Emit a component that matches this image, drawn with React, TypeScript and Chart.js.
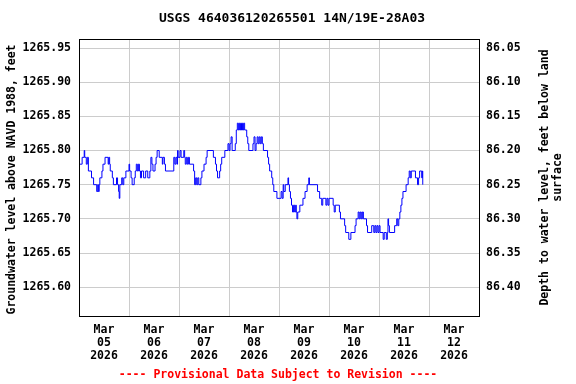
import React, { useEffect, useRef } from "react";
import { Chart, registerables } from "chart.js";

Chart.register(...registerables);

const TITLE = "USGS 464036120265501 14N/19E-28A03";
const LEFT_TITLE = "Groundwater level above NAVD 1988, feet";
const RIGHT_TITLE = ["Depth to water level, feet below land", "surface"];
const FOOTER = "---- Provisional Data Subject to Revision ----";

// x axis: hours since Mar 05 2026 00:00
const dayLabels = ["05", "06", "07", "08", "09", "10", "11", "12"];
const monthLabel = "Mar";
const yearLabel = "2026";
const leftTicks = [1265.6, 1265.65, 1265.7, 1265.75, 1265.8, 1265.85, 1265.9, 1265.95];
const rightTicks = [86.05, 86.1, 86.15, 86.2, 86.25, 86.3, 86.35, 86.4];
const LAND_DATUM = 1352.0;

// times (hours) at which the level changes, and the level from then on
const hours = [
  0, 1, 1.5, 2.5, 2.75, 3.5, 4, 4.5, 6, 7, 8.5, 9, 9.3, 9.7, 10, 11, 11.5, 12.5, 14, 14.3,
  14.7, 15, 16, 16.5, 18, 18.5, 19, 19.3, 19.6, 20.5, 21, 21.5, 22.5, 24, 24.3, 25, 25.5, 26.5, 27, 27.5,
  28, 28.5, 29, 29.5, 30, 31, 32, 33, 34, 34.5, 35, 35.5, 36.5, 37, 37.5, 38.5, 40, 40.3, 41, 41.5,
  45.5, 46, 46.5, 47, 47.3, 47.6, 48.5, 49, 50.3, 50.7, 51, 51.5, 52, 52.5, 53, 55, 55.5, 56, 56.5, 57,
  57.5, 58.5, 59, 60, 61, 61.5, 64.5, 65.5, 66, 66.5, 67.5, 68, 68.5, 70, 71.5, 72, 72.5, 73, 73.5, 75,
  75.5, 76, 76.5, 77, 77.5, 78, 78.5, 79, 79.5, 80.5, 81, 81.5, 83.5, 84, 84.5, 85, 85.5, 86, 86.5, 87,
  87.5, 88, 88.5, 90.5, 91, 91.5, 92.5, 93, 93.5, 95, 97, 97.5, 98, 98.3, 99, 100.3, 100.6, 101, 101.5, 102,
  102.5, 103, 103.5, 104, 104.3, 104.6, 105, 106, 107.5, 108.5, 109.5, 110.3, 110.6, 114.5, 115.5, 116.5, 117, 118.5, 119, 119.5,
  120, 122, 122.5, 123, 125, 125.5, 127.5, 128, 129.5, 130.5, 132.5, 133, 134, 134.5, 135, 135.5, 136, 136.5, 138, 138.5,
  140.5, 141.5, 142, 142.5, 143, 143.5, 144, 144.5, 146, 146.5, 147.5, 148, 148.3, 148.6, 149, 151.5, 152.5, 153, 153.5, 154,
  154.5, 155, 155.5, 157, 158, 158.5, 159, 159.5, 161.5, 162.5, 163, 163.5, 164.5, 164.8, 165,
];
const levels = [
  1265.78, 1265.78, 1265.79, 1265.8, 1265.79, 1265.78, 1265.79, 1265.77, 1265.76, 1265.75, 1265.74, 1265.75, 1265.74, 1265.75, 1265.76, 1265.77, 1265.78, 1265.79, 1265.78, 1265.79,
  1265.78, 1265.77, 1265.76, 1265.75, 1265.76, 1265.75, 1265.74, 1265.73, 1265.75, 1265.76, 1265.75, 1265.76, 1265.77, 1265.78, 1265.77, 1265.76, 1265.75, 1265.76, 1265.77, 1265.78,
  1265.77, 1265.78, 1265.77, 1265.76, 1265.77, 1265.76, 1265.77, 1265.76, 1265.77, 1265.79, 1265.78, 1265.77, 1265.78, 1265.79, 1265.8, 1265.79, 1265.78, 1265.79, 1265.78, 1265.77,
  1265.79, 1265.78, 1265.79, 1265.78, 1265.8, 1265.79, 1265.8, 1265.79, 1265.8, 1265.79, 1265.78, 1265.79, 1265.78, 1265.79, 1265.78, 1265.77, 1265.75, 1265.76, 1265.75, 1265.76,
  1265.75, 1265.76, 1265.77, 1265.78, 1265.79, 1265.8, 1265.79, 1265.78, 1265.77, 1265.76, 1265.77, 1265.78, 1265.79, 1265.8, 1265.81, 1265.8, 1265.81, 1265.82, 1265.8, 1265.81,
  1265.83, 1265.84, 1265.83, 1265.84, 1265.83, 1265.84, 1265.83, 1265.84, 1265.83, 1265.82, 1265.81, 1265.8, 1265.81, 1265.82, 1265.8, 1265.81, 1265.82, 1265.81, 1265.82, 1265.81,
  1265.82, 1265.81, 1265.8, 1265.79, 1265.78, 1265.77, 1265.76, 1265.75, 1265.74, 1265.73, 1265.74, 1265.73, 1265.75, 1265.74, 1265.75, 1265.76, 1265.75, 1265.74, 1265.73, 1265.72,
  1265.71, 1265.72, 1265.71, 1265.72, 1265.71, 1265.7, 1265.71, 1265.72, 1265.73, 1265.74, 1265.75, 1265.76, 1265.75, 1265.74, 1265.73, 1265.72, 1265.73, 1265.72, 1265.73, 1265.72,
  1265.73, 1265.72, 1265.71, 1265.72, 1265.71, 1265.7, 1265.69, 1265.68, 1265.67, 1265.68, 1265.69, 1265.7, 1265.71, 1265.7, 1265.71, 1265.7, 1265.71, 1265.7, 1265.69, 1265.68,
  1265.69, 1265.68, 1265.69, 1265.68, 1265.69, 1265.68, 1265.69, 1265.68, 1265.67, 1265.68, 1265.67, 1265.68, 1265.7, 1265.69, 1265.68, 1265.69, 1265.7, 1265.69, 1265.7, 1265.71,
  1265.72, 1265.73, 1265.74, 1265.75, 1265.76, 1265.77, 1265.76, 1265.77, 1265.76, 1265.75, 1265.76, 1265.77, 1265.76, 1265.77, 1265.75,
];

const FONT = "'DejaVu Sans Mono', 'Liberation Mono', monospace";

const textPlugin = {
  id: "usgsText",
  afterDraw(chart: any) {
    const { ctx, chartArea } = chart;
    ctx.save();
    // frame
    ctx.strokeStyle = "#000000";
    ctx.lineWidth = 1;
    ctx.strokeRect(chartArea.left + 0.5, chartArea.top + 0.5, chartArea.right - chartArea.left, chartArea.bottom - chartArea.top);
    ctx.fillStyle = "#000000";
    ctx.textAlign = "center";
    ctx.textBaseline = "middle";
    ctx.font = `bold 13px ${FONT}`;
    ctx.fillText(TITLE, 292, 19);
    const cy = (chartArea.top + chartArea.bottom) / 2;
    ctx.font = `bold 11.5px ${FONT}`;
    ctx.save();
    ctx.translate(12, cy + 2);
    ctx.rotate(-Math.PI / 2);
    ctx.fillText(LEFT_TITLE, 0, 0);
    ctx.restore();
    ctx.save();
    ctx.translate(545, cy);
    ctx.rotate(-Math.PI / 2);
    ctx.fillText(RIGHT_TITLE[0], 0, 0);
    ctx.fillText(RIGHT_TITLE[1], 0, 13);
    ctx.restore();
    ctx.fillStyle = "#ff0000";
    ctx.fillText(FOOTER, 278, 375);
    ctx.restore();
  },
};

export default function App() {
  const ref = useRef<HTMLCanvasElement>(null);
  useEffect(() => {
    document.body.style.margin = "0";
    const canvas = ref.current!;
    const points = hours.map((h, i) => ({ x: h, y: levels[i] }));
    const yMin = 1265.5578;
    const yMax = 1265.9632;
    const chart = new Chart(canvas, {
      type: "line",
      data: {
        datasets: [
          {
            data: points,
            borderColor: "#0000ff",
            borderWidth: 1,
            pointRadius: 0,
            stepped: true,
            fill: false,
            yAxisID: "y",
          },
        ],
      },
      options: {
        animation: false,
        responsive: false,
        maintainAspectRatio: false,
        events: [],
        layout: { padding: { top: 39, left: 0, right: 0, bottom: 0 } },
        plugins: { legend: { display: false }, tooltip: { enabled: false }, title: { display: false } },
        scales: {
          x: {
            type: "linear",
            position: "bottom",
            min: 0,
            max: 192,
            afterBuildTicks: (s: any) => {
              const t = [];
              for (let v = 0; v <= 192; v += 12) t.push({ value: v });
              s.ticks = t;
            },
            afterFit: (s: any) => {
              s.height = 68;
            },
            grid: {
              drawTicks: false,
              color: (c: any) => (c.tick && c.tick.value % 24 === 0 ? "#cccccc" : "rgba(0,0,0,0)"),
              lineWidth: 1,
            },
            border: { display: false },
            ticks: {
              autoSkip: false,
              maxRotation: 0,
              minRotation: 0,
              padding: 8,
              color: "#000000",
              font: { family: FONT, size: 11.5, weight: "bold", lineHeight: 1.1 },
              callback: (v: any) => {
                const n = Number(v);
                if (n % 24 !== 12) return "";
                const d = Math.floor(n / 24);
                return [monthLabel, dayLabels[d], yearLabel];
              },
            },
          },
          y: {
            type: "linear",
            position: "left",
            min: yMin,
            max: yMax,
            afterBuildTicks: (s: any) => {
              s.ticks = leftTicks.map((v) => ({ value: v }));
            },
            afterFit: (s: any) => {
              s.width = 79;
            },
            grid: { drawTicks: false, color: "#cccccc", lineWidth: 1 },
            border: { display: false },
            ticks: {
              padding: 8,
              color: "#000000",
              font: { family: FONT, size: 11.5, weight: "bold" },
              callback: (v: any) => Number(v).toFixed(2),
            },
          },
          y2: {
            type: "linear",
            position: "right",
            reverse: true,
            min: LAND_DATUM - yMax,
            max: LAND_DATUM - yMin,
            afterBuildTicks: (s: any) => {
              s.ticks = rightTicks.map((v) => ({ value: v }));
            },
            afterFit: (s: any) => {
              s.width = 97;
            },
            grid: { display: false, drawTicks: false },
            border: { display: false },
            ticks: {
              padding: 7,
              color: "#000000",
              font: { family: FONT, size: 11.5, weight: "bold" },
              callback: (v: any) => Number(v).toFixed(2),
            },
          },
        },
      } as any,
      plugins: [textPlugin],
    });
    return () => chart.destroy();
  }, []);
  return (
    <div style={{ width: 576, height: 384 }}>
      <canvas ref={ref} width={576} height={384} style={{ display: "block" }} />
    </div>
  );
}
